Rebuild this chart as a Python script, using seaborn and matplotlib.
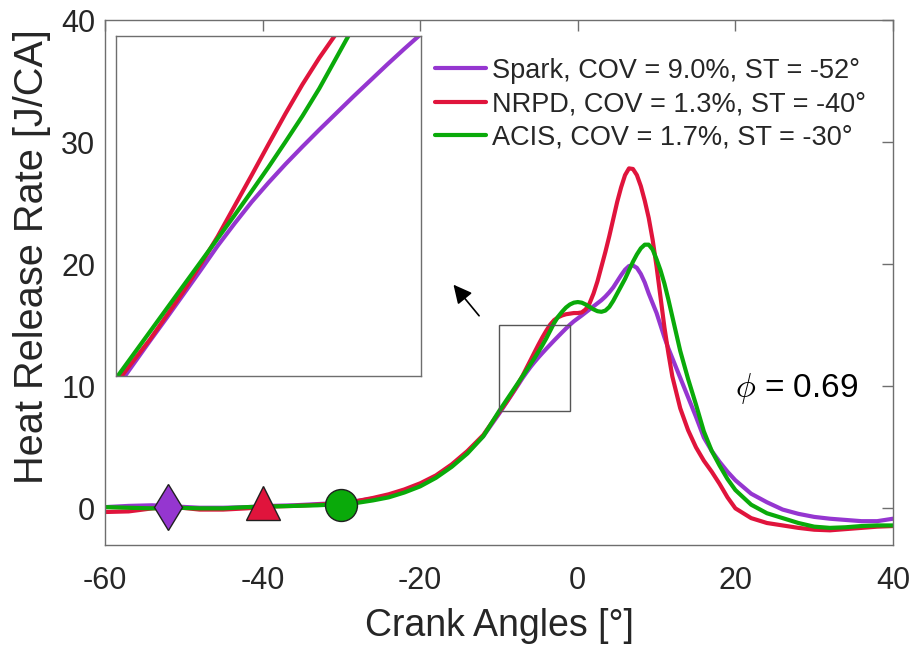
import matplotlib
matplotlib.use("Agg")
import matplotlib.pyplot as plt
import pandas as pd
import seaborn as sns
from matplotlib.patches import Rectangle

# Crank angle samples [deg] shared by the three heat release traces
crank_angle = [-60, -57, -54, -51, -48, -45, -42, -39, -36, -33, -30,
               -28, -26, -24, -22, -20, -18, -16, -14, -12,
               -10, -9.5, -9, -8.5, -8, -7.5, -7, -6.5, -6, -5.5,
               -5, -4.5, -4, -3.5, -3, -2.5, -2, -1.5, -1, -0.5,
               0, 0.5, 1, 1.5, 2, 2.5, 3, 3.5, 4, 4.5, 5, 5.5, 6, 6.5,
               7, 7.5, 8, 8.5, 9, 9.5, 10, 10.5, 11, 11.5, 12,
               13, 14, 15, 16, 17, 18, 19, 20,
               22, 24, 26, 28, 30, 32, 34, 36, 38, 40]

hrr_spark = [0.1, 0.2, 0.25, 0.15, 0.05, 0.05, 0.1, 0.2, 0.25, 0.35, 0.45,
             0.6, 0.8, 1.05, 1.45, 1.95, 2.6, 3.5, 4.6, 5.9,
             7.74, 8.23, 8.72, 9.2, 9.69, 10.18, 10.68, 11.14, 11.58, 11.98,
             12.36, 12.72, 13.07, 13.41, 13.75, 14.08, 14.41, 14.73, 15.04, 15.32,
             15.56, 15.8, 16.05, 16.3, 16.55, 16.8, 17.05, 17.35, 17.7, 18.1,
             18.6, 19.1, 19.55, 19.85, 19.9, 19.7, 19.2, 18.5, 17.6, 16.8,
             16.0, 15.0, 14.0, 13.1, 12.3,
             10.7, 9.1, 7.5, 5.8, 4.7, 3.8, 3.0, 2.3,
             1.2, 0.5, -0.1, -0.45, -0.7, -0.85, -0.95, -1.05, -1.05, -0.85]

hrr_nrpd = [-0.3, -0.25, 0.0, 0.1, -0.1, -0.1, 0.0, 0.15, 0.2, 0.3, 0.45,
            0.6, 0.85, 1.15, 1.55, 2.05, 2.7, 3.6, 4.7, 6.0,
            7.85, 8.3, 8.75, 9.25, 9.75, 10.3, 10.87, 11.5, 12.13, 12.77,
            13.4, 14.0, 14.55, 15.05, 15.42, 15.65, 15.8, 15.9, 15.95, 16.0,
            16.0, 16.05, 16.3, 16.8, 17.6, 18.6, 19.8, 21.0, 22.3, 23.7,
            25.1, 26.3, 27.3, 27.85, 27.8, 27.3, 26.4, 25.2, 23.8, 22.0,
            19.8, 17.3, 14.8, 12.7, 10.8,
            8.2, 6.4, 5.0, 3.9, 3.0, 2.0, 0.9, 0.0,
            -0.8, -1.2, -1.4, -1.6, -1.75, -1.8, -1.7, -1.6, -1.5, -1.45]

hrr_acis = [0.1, 0.05, 0.0, 0.05, 0.0, 0.0, 0.1, 0.15, 0.2, 0.25, 0.35,
            0.45, 0.65, 0.9, 1.3, 1.8, 2.5, 3.4, 4.5, 5.9,
            7.95, 8.43, 8.91, 9.39, 9.87, 10.35, 10.83, 11.31, 11.8, 12.3,
            12.82, 13.35, 13.92, 14.55, 15.18, 15.7, 16.1, 16.45, 16.7, 16.85,
            16.9, 16.85, 16.7, 16.5, 16.3, 16.15, 16.1, 16.2, 16.5, 17.0,
            17.6, 18.2, 18.8, 19.5, 20.2, 20.8, 21.3, 21.6, 21.6, 21.2,
            20.4, 19.5, 18.4, 17.1, 15.7,
            12.9, 10.6, 8.5, 6.3, 4.7, 3.5, 2.4, 1.5,
            0.3, -0.4, -0.8, -1.2, -1.5, -1.6, -1.55, -1.45, -1.4, -1.4]

series_labels = ["Spark, COV = 9.0%, ST = -52°",
                 "NRPD, COV = 1.3%, ST = -40°",
                 "ACIS, COV = 1.7%, ST = -30°"]
series_colors = ["#9536D0", "#E0143C", "#0AAA0A"]

# Spark timing markers
start_angle = [-52, -40, -30]
start_hrr = [0.1, 0.4, 0.25]
start_marker = ["d", "^", "o"]
start_size = [23, 25, 23]

x_ticks = [-60, -40, -20, 0, 20, 40]
y_ticks = [0, 10, 20, 30, 40]
zoom_x = (-10, -1)
zoom_y = (8, 15)

df = pd.concat([
    pd.DataFrame({"angle": crank_angle, "hrr": vals, "mode": lab})
    for vals, lab in zip([hrr_spark, hrr_nrpd, hrr_acis], series_labels)
])

sns.set_style("white")
plt.rcParams["font.family"] = ["Liberation Sans", "DejaVu Sans"]
plt.rcParams["mathtext.fontset"] = "cm"
plt.rcParams["axes.unicode_minus"] = False

axis_grey = "#6E6E6E"
text_col = "#262626"

fig = plt.figure(figsize=(9.17, 6.47), dpi=100)
ax = fig.add_axes([0.1145, 0.1577, 0.8593, 0.8113])

sns.lineplot(data=df, x="angle", y="hrr", hue="mode", hue_order=series_labels,
             palette=series_colors, lw=3, sort=False, estimator=None, ax=ax,
             legend=False)

for a, h, m, s, c in zip(start_angle, start_hrr, start_marker, start_size, series_colors):
    ax.plot(a, h, marker=m, ms=s, mfc=c, mec="#202020", mew=1.0, ls="none", zorder=5)

ax.set_xlim(-60, 40)
ax.set_ylim(-3, 40)
ax.set_xticks(x_ticks)
ax.set_yticks(y_ticks)
ax.tick_params(direction="in", length=8, width=1, color=axis_grey,
               labelsize=22, labelcolor=text_col, top=True, right=True,
               labeltop=False, labelright=False)
ax.tick_params(axis="x", pad=15)
ax.tick_params(axis="y", pad=7)
for sp in ax.spines.values():
    sp.set_color(axis_grey)
    sp.set_linewidth(1.0)
ax.set_xlabel("Crank Angles [°]", fontsize=27, color=text_col, labelpad=9)
ax.set_ylabel("Heat Release Rate [J/CA]", fontsize=28.6, color=text_col, labelpad=7)
ax.yaxis.label.set_y(0.549)

# zoom window and pointer to the inset
ax.add_patch(Rectangle((zoom_x[0], zoom_y[0]), zoom_x[1] - zoom_x[0], zoom_y[1] - zoom_y[0],
                       fill=False, ec="#555555", lw=1.0, zorder=4))
ax.annotate("", xy=(-16.0, 18.5), xytext=(-12.3, 15.6),
            arrowprops=dict(arrowstyle="-|>", color="black", lw=1.2, mutation_scale=28))

ax.text(20.0, 9.8, r"$\phi$ = 0.69", fontsize=24, color="black", va="center", ha="left")

handles = [plt.Line2D([], [], color=c, lw=3) for c in series_colors]
ax.legend(handles, series_labels, loc="upper left", bbox_to_anchor=(0.405, 0.949),
          frameon=False, fontsize=19.5, handlelength=1.9, handletextpad=0.2,
          labelspacing=0.28, borderaxespad=0, labelcolor=text_col)

# inset: magnified view of the zoom window
ins = fig.add_axes([0.1265, 0.4189, 0.3326, 0.5255])
sns.lineplot(data=df, x="angle", y="hrr", hue="mode", hue_order=series_labels,
             palette=series_colors, lw=3, sort=False, estimator=None, ax=ins,
             legend=False)
ins.set_xlim(*zoom_x)
ins.set_ylim(*zoom_y)
ins.set_xticks([])
ins.set_yticks([])
ins.set_xlabel("")
ins.set_ylabel("")
for sp in ins.spines.values():
    sp.set_color(axis_grey)
    sp.set_linewidth(1.0)

fig.savefig("out.png", dpi=100)
